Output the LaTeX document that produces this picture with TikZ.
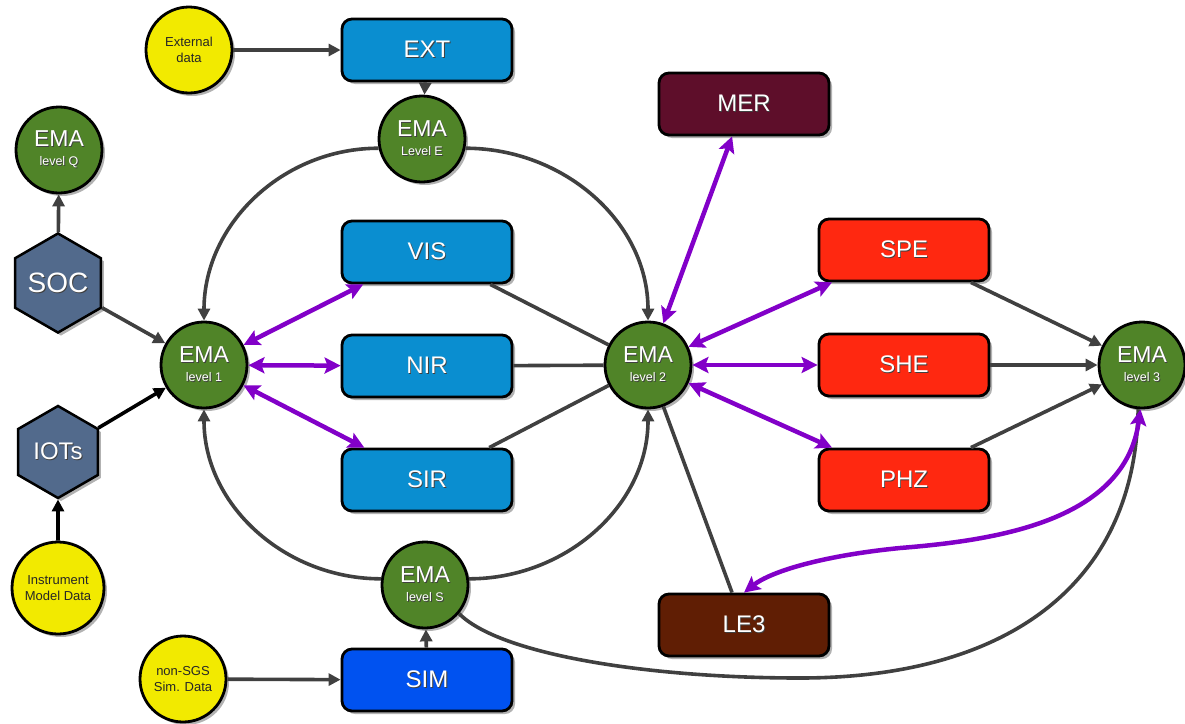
\documentclass[tikz,border=0pt]{standalone}
\usepackage{fontspec}
\setmainfont{Liberation Sans}
\usetikzlibrary{arrows.meta,shapes.geometric,shadows}

\definecolor{emagreen}{RGB}{80,132,40}
\definecolor{boxblue}{RGB}{10,142,208}
\definecolor{simblue}{RGB}{0,82,240}
\definecolor{boxred}{RGB}{255,40,16}
\definecolor{merred}{RGB}{94,14,42}
\definecolor{lebrown}{RGB}{96,30,4}
\definecolor{inyellow}{RGB}{242,234,0}
\definecolor{hexslate}{RGB}{82,106,140}
\definecolor{linkgray}{RGB}{64,64,64}
\definecolor{linkpurple}{RGB}{130,0,200}

% white lettering with a small dark offset shadow
\newcommand\shd[1]{\leavevmode\rlap{\kern0.9pt\raisebox{-0.9pt}{\color{black!75}#1}}#1}
\newcommand\emalabel[1]{{\fontsize{23}{23}\selectfont\shd{EMA}}\\\shd{#1}}

\tikzset{
  shadowed/.style={drop shadow={shadow xshift=3pt,shadow yshift=-3pt,fill=black,opacity=0.3}},
  ema/.style={circle,draw=black,line width=2.8pt,fill=emagreen,minimum size=86pt,inner sep=0pt,
    text=white,align=center,font=\fontsize{12.5}{19}\selectfont,shadowed},
  datacircle/.style={circle,draw=black,line width=2.8pt,fill=inyellow,minimum size=86pt,inner sep=0pt,
    align=center,text=black!85,font=\fontsize{13}{16}\selectfont,shadowed},
  procbox/.style={rectangle,rounded corners=10pt,draw=black,line width=2.8pt,minimum width=170pt,
    minimum height=62pt,text=white,font=\fontsize{24}{24}\selectfont,shadowed},
  hexa/.style={regular polygon,regular polygon sides=6,shape border rotate=30,draw=black,line width=2.5pt,
    fill=hexslate,minimum size=92pt,inner sep=0pt,text=white,shadowed},
  flow/.style={draw=linkgray,line width=3.6pt,-{Triangle[length=12pt,width=12pt]}},
  blackflow/.style={draw=black,line width=3.6pt,-{Triangle[length=12pt,width=12pt]}},
  plainlink/.style={draw=linkgray,line width=3.6pt},
  dual/.style={draw=linkpurple,line width=4.5pt,
    {Stealth[length=16pt,width=16pt,inset=3pt]}-{Stealth[length=16pt,width=16pt,inset=3pt]}}
}

\begin{document}
\begin{tikzpicture}[x=1pt,y=1pt]
\useasboundingbox (0,0) rectangle (1185,-723);

% inputs and ground segment
\node[datacircle] (extdata) at (189,-50) {External\\data};
\node[datacircle,minimum size=92pt] (imd) at (58,-588) {Instrument\\Model Data};
\node[datacircle] (nsgs) at (183,-679) {non-SGS\\Sim. Data};
\node[hexa,font=\fontsize{28}{28}\selectfont] (soc) at (58,-283) {\shd{SOC}};
\node[hexa,font=\fontsize{24}{24}\selectfont] (iots) at (58,-452) {\shd{IOTs}};

% processing functions
\node[procbox,fill=boxblue] (EXT) at (427,-50) {\shd{EXT}};
\node[procbox,fill=boxblue] (VIS) at (427,-252) {\shd{VIS}};
\node[procbox,fill=boxblue] (NIR) at (427,-366) {\shd{NIR}};
\node[procbox,fill=boxblue] (SIR) at (427,-480) {\shd{SIR}};
\node[procbox,fill=simblue] (SIM) at (427,-680) {\shd{SIM}};
\node[procbox,fill=merred] (MER) at (744,-104) {\shd{MER}};
\node[procbox,fill=boxred] (SPE) at (904,-250) {\shd{SPE}};
\node[procbox,fill=boxred] (SHE) at (904,-365) {\shd{SHE}};
\node[procbox,fill=boxred] (PHZ) at (904,-480) {\shd{PHZ}};
\node[procbox,fill=lebrown] (LE3) at (744,-625) {\shd{LE3}};

% EMA stages
\node[ema] (emaQ) at (59,-150) {\emalabel{level Q}};
\node[ema] (emaE) at (422,-139) {\emalabel{Level E}};
\node[ema] (ema1) at (204,-365) {\emalabel{level 1}};
\node[ema] (emaS) at (425,-585) {\emalabel{level S}};
\node[ema] (ema2) at (648,-365) {\emalabel{level 2}};
\node[ema] (ema3) at (1142,-365) {\emalabel{level 3}};

% gray flows
\draw[flow] (extdata) -- (EXT);
\draw[flow] (EXT) -- (emaE);
\draw[flow] (nsgs) -- (SIM);
\draw[flow] (SIM) -- (emaS);
\draw[flow] (soc) -- (emaQ);
\draw[flow] (soc) -- (ema1);
\draw[blackflow] (iots) -- (ema1);
\draw[blackflow] (imd) -- (iots);
\draw[flow] (emaE.192) to[out=180,in=90] (ema1);
\draw[flow] (emaE.-12) to[out=0,in=90] (ema2);
\draw[flow] (emaS.172) to[out=180,in=-90] (ema1);
\draw[flow] (emaS.8) to[out=0,in=-90] (ema2);
\draw[plainlink] (emaS.-40) .. controls (500,-655) and (650,-678) .. (800,-678)
  .. controls (1000,-678) and (1135,-590) .. (ema3.-95);
\draw[plainlink] (VIS) -- (ema2);
\draw[plainlink] (NIR) -- (ema2);
\draw[plainlink] (SIR) -- (ema2);
\draw[plainlink] (ema2) -- (LE3);
\draw[flow] (SPE) -- (ema3);
\draw[flow] (SHE) -- (ema3);
\draw[flow] (PHZ) -- (ema3);

% purple exchanges
\draw[dual] (ema1) -- (VIS);
\draw[dual] (ema1) -- (NIR);
\draw[dual] (ema1) -- (SIR);
\draw[dual] (ema2) -- (MER);
\draw[dual] (ema2) -- (SPE);
\draw[dual] (ema2) -- (SHE);
\draw[dual] (ema2) -- (PHZ);
\draw[dual] (ema3.-92) .. controls (1125,-520) and (1000,-540) .. (900,-548)
  .. controls (820,-556) and (770,-572) .. (LE3.north);
\end{tikzpicture}
\end{document}
